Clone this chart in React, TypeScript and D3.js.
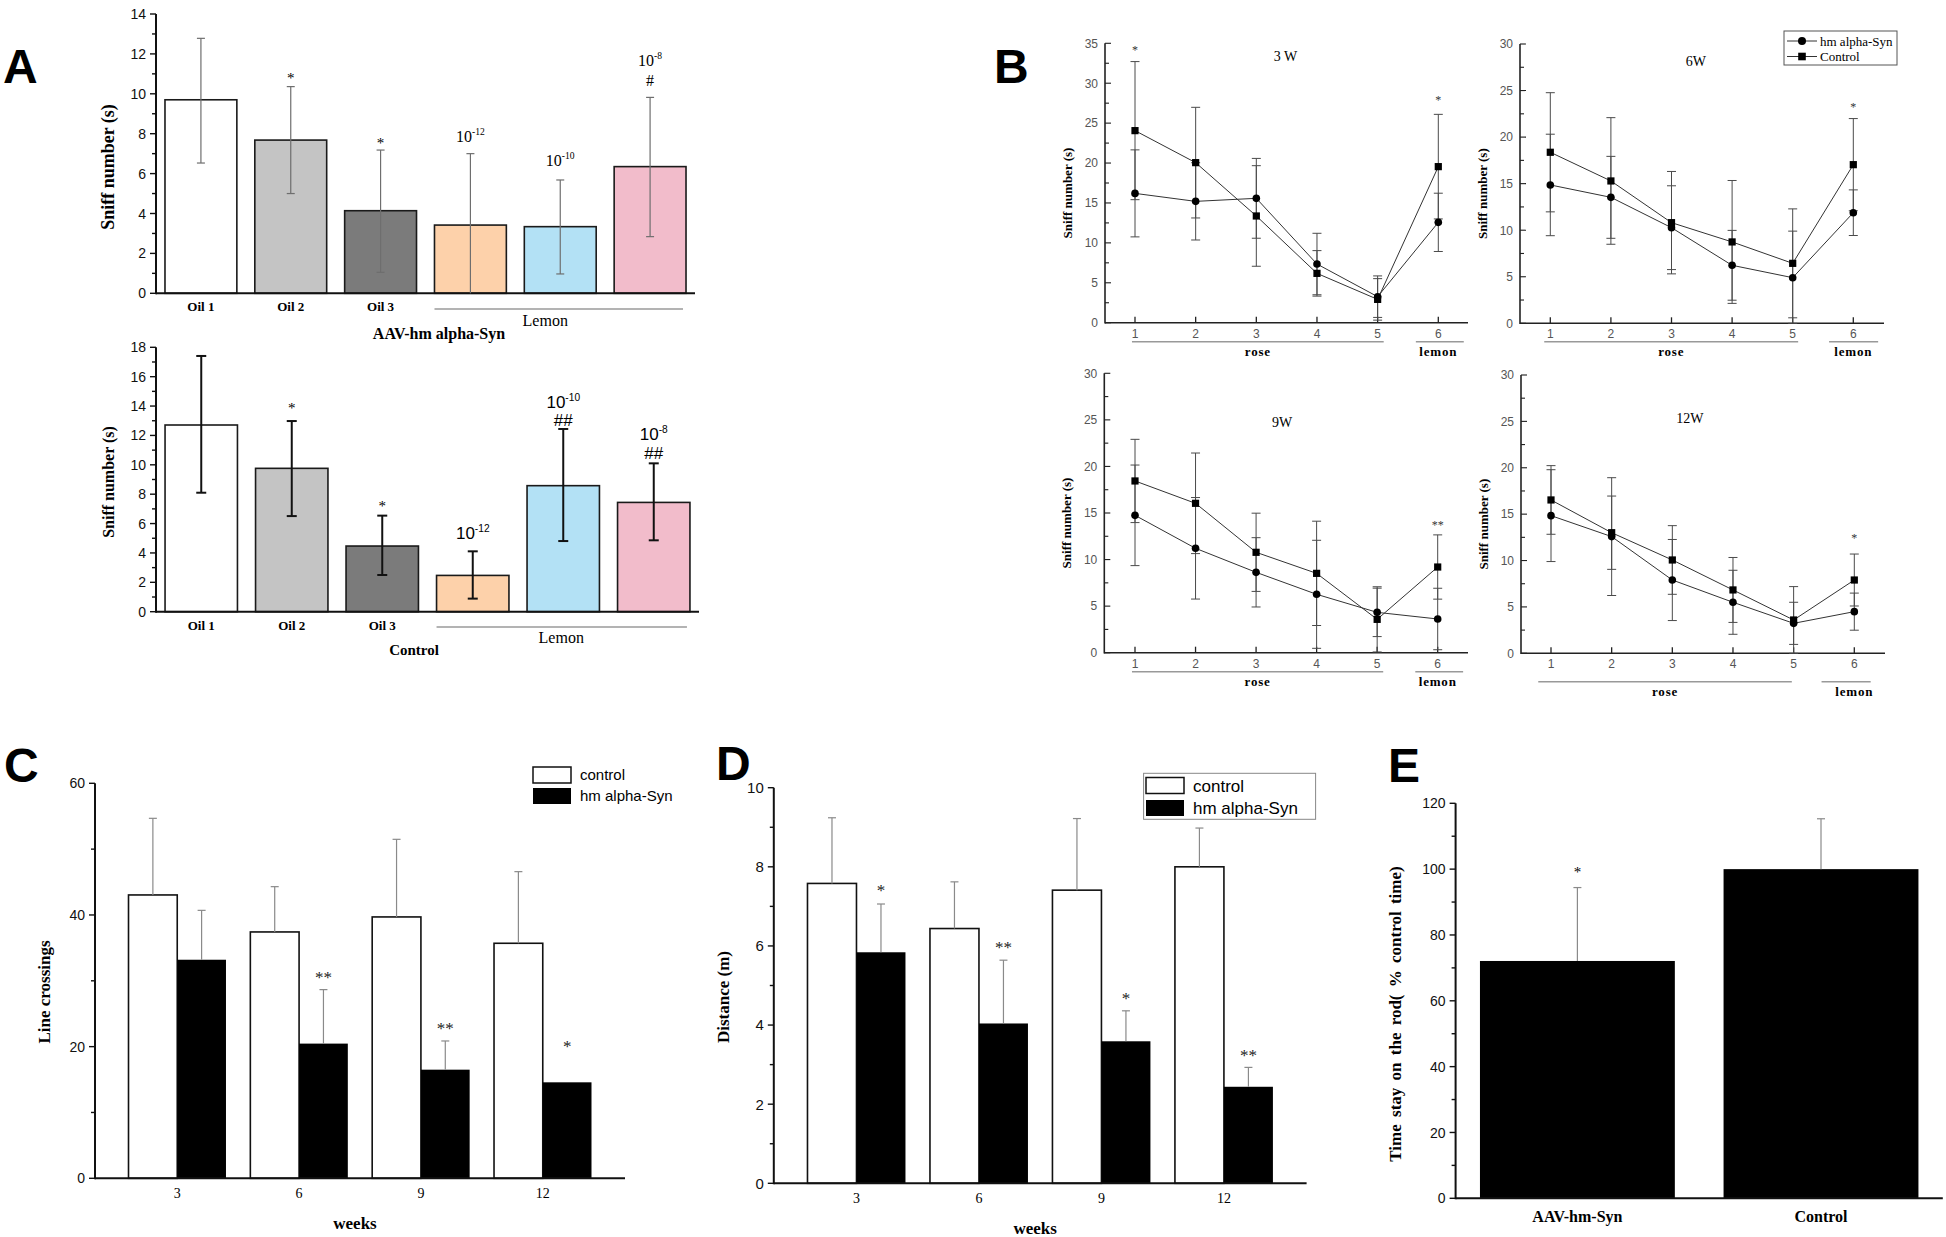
import React from "react";
import * as d3 from "d3";

const SERIF = "'Liberation Serif', 'Times New Roman', serif";
const SANS = "'Liberation Sans', Arial, sans-serif";

// ---- Panel A: sniff number, bars ----
const aCats = ["oil1", "oil2", "oil3", "lem12", "lem10", "lem8"];
const aCatLabels = ["Oil 1", "Oil 2", "Oil 3", "", "", ""];
const aColors = ["#ffffff", "#c4c4c4", "#7b7b7b", "#fdd1aa", "#b3e1f5", "#f2bccb"];
const aConc = ["", "", "", "-12", "-10", "-8"];

const aTopMeans = [9.7, 7.68, 4.14, 3.42, 3.34, 6.35];
const aTopUpper = [12.78, 10.36, 7.18, 7.0, 5.68, 9.82];
const aTopLower = [6.53, 5.0, 1.05, 0, 0.97, 2.84];
const aTopStarY = [0, 10.94, 7.68, 0, 0, 0];
const aTopConcY = [0, 0, 0, 7.6, 6.4, 11.4];
const aTopHash = ["", "", "", "", "", "#"];
const aTopHashY = [0, 0, 0, 0, 0, 10.4];

const aBotMeans = [12.71, 9.76, 4.47, 2.47, 8.58, 7.44];
const aBotUpper = [17.41, 12.98, 6.54, 4.11, 12.44, 10.1];
const aBotLower = [8.1, 6.51, 2.5, 0.89, 4.81, 4.86];
const aBotStarY = [0, 14.07, 7.42, 0, 0, 0];
const aBotConcY = [0, 0, 0, 4.93, 13.84, 11.69];
const aBotHash = ["", "", "", "", "##", "##"];
const aBotHashY = [0, 0, 0, 0, 12.64, 10.37];

// ---- Panel B: sniff number over trials ----
const trials = [1, 2, 3, 4, 5, 6];
const ctrl3W = [24.06, 20.05, 13.37, 6.18, 2.92, 19.55];
const ctrl3WErr = [8.65, 6.93, 6.3, 2.85, 2.6, 6.55];
const syn3W = [16.2, 15.2, 15.58, 7.35, 3.26, 12.57];
const syn3WErr = [5.45, 4.84, 5.0, 3.85, 2.6, 3.65];
const stars3W = ["*", "", "", "", "", "*"];
const stars3WY = [34.4, 0, 0, 0, 0, 28.1];

const ctrl6W = [18.37, 15.29, 10.81, 8.74, 6.44, 17.04];
const ctrl6WErr = [6.4, 6.8, 5.5, 6.6, 5.85, 4.95];
const syn6W = [14.86, 13.53, 10.27, 6.23, 4.9, 11.88];
const syn6WErr = [5.45, 4.4, 4.5, 3.75, 5.0, 2.45];
const stars6W = ["", "", "", "", "", "*"];
const stars6WY = [0, 0, 0, 0, 0, 23.4];

const ctrl9W = [18.44, 16.04, 10.78, 8.52, 3.58, 9.2];
const ctrl9WErr = [4.47, 5.4, 4.2, 5.6, 3.5, 3.45];
const syn9W = [14.75, 11.21, 8.63, 6.27, 4.33, 3.62];
const syn9WErr = [5.4, 5.45, 3.72, 5.8, 2.6, 3.3];
const stars9W = ["", "", "", "", "", "**"];
const stars9WY = [0, 0, 0, 0, 0, 13.9];

const ctrl12W = [16.53, 13.0, 10.06, 6.83, 3.59, 7.9];
const ctrl12WErr = [3.7, 3.95, 3.7, 3.5, 3.6, 2.8];
const syn12W = [14.84, 12.58, 7.9, 5.5, 3.23, 4.49];
const syn12WErr = [4.95, 6.35, 4.37, 3.45, 2.27, 2.0];
const stars12W = ["", "", "", "", "", "*"];
const stars12WY = [0, 0, 0, 0, 0, 12.6];

// ---- Panels C, D, E ----
const weeks = ["3", "6", "9", "12"];
const groups = ["control", "hm alpha-Syn"];

const lineCtrl = [43.04, 37.42, 39.7, 35.7];
const lineCtrlErr = [11.64, 6.88, 11.79, 10.88];
const lineSyn = [33.2, 20.46, 16.5, 14.58];
const lineSynErr = [7.5, 8.2, 4.36, 0];
const lineStars = ["", "**", "**", "*"];
const lineStarY = [0, 31.1, 23.3, 20.6];

const distCtrl = [7.58, 6.44, 7.41, 8.0];
const distCtrlErr = [1.66, 1.18, 1.81, 0.98];
const distSyn = [5.84, 4.04, 3.59, 2.44];
const distSynErr = [1.22, 1.6, 0.77, 0.49];
const distStars = ["*", "**", "*", "**"];
const distStarY = [7.5, 6.07, 4.76, 3.33];

const rodGroups = ["AAV-hm-Syn", "Control"];
const rodMeans = [72.1, 100];
const rodErr = [22.3, 15.3];
const rodStars = ["*", ""];
const rodStarY = [100.25, 0];

function YAxis({ y, x, major, minor, inward = false, len = 6, minorLen = 4, fontSize = 14, labelColor = "#111", stroke = "#111", width = 2, gap = 4, family = SANS }: any) {
  const dir = inward ? 1 : -1;
  const [b, t] = y.range();
  return (
    <g>
      <line x1={x} x2={x} y1={b + width / 2} y2={t} stroke={stroke} strokeWidth={width} />
      {major.map((v: number) => (
        <line key={"a" + v} x1={x} x2={x + dir * len} y1={y(v)} y2={y(v)} stroke={stroke} strokeWidth={width * 0.7} />
      ))}
      {minor.map((v: number) => (
        <line key={"b" + v} x1={x} x2={x + dir * minorLen} y1={y(v)} y2={y(v)} stroke={stroke} strokeWidth={width * 0.7} />
      ))}
      {major.map((v: number) => (
        <text key={"c" + v} x={x - (inward ? 0 : len) - gap} y={y(v)} dy="0.36em" textAnchor="end" fontSize={fontSize} fontFamily={family} fill={labelColor}>
          {v}
        </text>
      ))}
    </g>
  );
}

function VErr({ x, lo, hi, cap, color, width, both = true }: any) {
  return (
    <g stroke={color} strokeWidth={width}>
      <line x1={x} x2={x} y1={lo} y2={hi} />
      <line x1={x - cap} x2={x + cap} y1={hi} y2={hi} />
      {both && <line x1={x - cap} x2={x + cap} y1={lo} y2={lo} />}
    </g>
  );
}

function OdorBars(p: any) {
  const y = d3.scaleLinear().domain([0, p.yMax]).range([p.bottom, p.top]);
  const x = d3.scaleBand().domain(aCats).range([p.left, p.right]).paddingInner(0.2).paddingOuter(0.1);
  const bw = x.bandwidth();
  const cx = (c: string) => (x(c) as number) + bw / 2;
  return (
    <g>
      <YAxis y={y} x={p.left} major={d3.range(0, p.yMax + 1, 2)} minor={d3.range(1, p.yMax, 2)} fontSize={14} len={6} minorLen={4} />
      {aCats.map((c, i) => (
        <rect key={c} x={x(c)} y={y(p.means[i])} width={bw} height={y(0) - y(p.means[i])} fill={aColors[i]} stroke="#1a1a1a" strokeWidth={1.6} />
      ))}
      <line x1={p.left} x2={p.right} y1={y(0)} y2={y(0)} stroke="#111" strokeWidth={2} />
      {aCats.map((c, i) => (
        <VErr key={"e" + c} x={cx(c)} lo={y(Math.max(0, p.lower[i]))} hi={y(p.upper[i])} cap={p.cap} color={p.errColor} width={p.errWidth} both={p.lower[i] > 0} />
      ))}
      {aCats.map((c, i) =>
        p.starY[i] ? (
          <text key={"s" + c} x={cx(c)} y={y(p.starY[i])} dy="0.55em" textAnchor="middle" fontFamily={SERIF} fontSize={15}>*</text>
        ) : null
      )}
      {aCats.map((c, i) =>
        p.concY[i] ? (
          <text key={"k" + c} x={cx(c)} y={y(p.concY[i])} textAnchor="middle" fontFamily={p.concFamily} fontSize={p.concSize}>
            10<tspan dy={-p.concSize * 0.42} fontSize={p.concSize * 0.6}>{aConc[i]}</tspan>
          </text>
        ) : null
      )}
      {aCats.map((c, i) =>
        p.hashes[i] ? (
          <text key={"h" + c} x={cx(c)} y={y(p.hashY[i])} textAnchor="middle" fontFamily={p.concFamily} fontSize={p.concSize}>{p.hashes[i]}</text>
        ) : null
      )}
      {aCatLabels.map((l, i) =>
        l ? (
          <text key={"l" + i} x={cx(aCats[i])} y={p.catY} textAnchor="middle" fontFamily={SERIF} fontWeight="bold" fontSize={13}>{l}</text>
        ) : null
      )}
      <line x1={x("lem12")} x2={(x("lem8") as number) + bw - 3} y1={p.lineY} y2={p.lineY} stroke="#9a9a9a" strokeWidth={1.6} />
      <text x={cx("lem10") + p.lemonDx} y={p.lemonY} textAnchor="middle" fontFamily={SERIF} fontSize={16}>Lemon</text>
      <text x={p.groupX} y={p.groupY} textAnchor="middle" fontFamily={SERIF} fontWeight="bold" fontSize={p.groupSize}>{p.group}</text>
      <text transform={`translate(${p.left - 42},${p.yLabelY}) rotate(-90)`} textAnchor="middle" fontFamily={SERIF} fontWeight="bold" fontSize={p.yLabelSize}>Sniff number (s)</text>
    </g>
  );
}

function SniffLines(p: any) {
  const x = d3.scaleLinear().domain([1, 6]).range([p.x1, p.x6]);
  const y = d3.scaleLinear().domain([0, p.yMax]).range([p.bottom, p.top]);
  const line = d3.line<number>().x((_, i) => x(trials[i])).y((v) => y(v));
  const axisCol = "#222";
  const errCol = "#4a4a4a";
  const ul = p.bottom + p.ulDy;
  return (
    <g>
      <YAxis y={y} x={p.left} major={d3.range(0, p.yMax + 1, 5)} minor={d3.range(2.5, p.yMax, 5)} inward len={6} minorLen={4} fontSize={12} labelColor="#555" stroke={axisCol} width={1.6} gap={7} />
      <line x1={p.left} x2={p.right} y1={p.bottom} y2={p.bottom} stroke={axisCol} strokeWidth={1.6} />
      {trials.map((t) => (
        <g key={"t" + t}>
          <line x1={x(t)} x2={x(t)} y1={p.bottom} y2={p.bottom - 6} stroke={axisCol} strokeWidth={1.3} />
          <text x={x(t)} y={p.bottom + 15} textAnchor="middle" fontFamily={SANS} fontSize={12} fill="#555">{t}</text>
        </g>
      ))}
      {trials.map((t, i) => (
        <g key={"e" + t}>
          <VErr x={x(t)} lo={y(Math.max(0, p.ctrl[i] - p.ctrlErr[i]))} hi={y(p.ctrl[i] + p.ctrlErr[i])} cap={4.5} color={errCol} width={1} />
          <VErr x={x(t)} lo={y(Math.max(0, p.syn[i] - p.synErr[i]))} hi={y(p.syn[i] + p.synErr[i])} cap={4.5} color={errCol} width={1} />
        </g>
      ))}
      <path d={line(p.ctrl) || ""} fill="none" stroke="#333" strokeWidth={1} />
      <path d={line(p.syn) || ""} fill="none" stroke="#333" strokeWidth={1} />
      {trials.map((t, i) => (
        <g key={"m" + t}>
          <rect x={x(t) - 3.6} y={y(p.ctrl[i]) - 3.6} width={7.2} height={7.2} fill="#000" />
          <circle cx={x(t)} cy={y(p.syn[i])} r={3.8} fill="#000" />
        </g>
      ))}
      {trials.map((t, i) =>
        p.stars[i] ? (
          <text key={"s" + t} x={x(t)} y={y(p.starY[i])} dy="0.5em" textAnchor="middle" fontFamily={SERIF} fontSize={12} fill="#333">{p.stars[i]}</text>
        ) : null
      )}
      <text x={x(p.titleT)} y={y(p.titleV)} dy="0.35em" textAnchor="middle" fontFamily={SERIF} fontSize={14}>{p.title}</text>
      <line x1={x(p.rose[0])} x2={x(p.rose[1])} y1={ul} y2={ul} stroke="#999" strokeWidth={1.4} />
      <line x1={x(p.lemon[0])} x2={x(p.lemon[1])} y1={ul} y2={ul} stroke="#999" strokeWidth={1.4} />
      <text x={x((p.rose[0] + p.rose[1]) / 2)} y={ul + 14} textAnchor="middle" fontFamily={SERIF} fontWeight="bold" fontSize={13} letterSpacing={0.8}>rose</text>
      <text x={x(6)} y={ul + 14} textAnchor="middle" fontFamily={SERIF} fontWeight="bold" fontSize={13} letterSpacing={0.8}>lemon</text>
      <text transform={`translate(${p.left - 33},${(p.top + p.bottom) / 2 + 10}) rotate(-90)`} textAnchor="middle" fontFamily={SERIF} fontWeight="bold" fontSize={13}>Sniff number (s)</text>
    </g>
  );
}

function WeekBars(p: any) {
  const y = d3.scaleLinear().domain([0, p.yMax]).range([p.bottom, p.top]);
  const x = d3.scaleBand().domain(weeks).range([p.left, p.right]).paddingInner(0.2).paddingOuter(0.275);
  const inner = d3.scaleBand().domain(groups).range([0, x.bandwidth()]);
  const bw = inner.bandwidth();
  const xs = (w: string, g: string) => (x(w) as number) + (inner(g) as number);
  return (
    <g>
      {weeks.map((w, i) => (
        <g key={w}>
          <rect x={xs(w, groups[0])} y={y(p.ctrl[i])} width={bw} height={y(0) - y(p.ctrl[i])} fill="#fff" stroke="#111" strokeWidth={1.6} />
          <rect x={xs(w, groups[1])} y={y(p.syn[i])} width={bw} height={y(0) - y(p.syn[i])} fill="#000" />
          <VErr x={xs(w, groups[0]) + bw / 2} lo={y(p.ctrl[i])} hi={y(p.ctrl[i] + p.ctrlErr[i])} cap={4} color="#8a8a8a" width={1.2} both={false} />
          {p.synErr[i] > 0 && <VErr x={xs(w, groups[1]) + bw / 2} lo={y(p.syn[i])} hi={y(p.syn[i] + p.synErr[i])} cap={4} color="#8a8a8a" width={1.2} both={false} />}
          {p.stars[i] && (
            <text x={xs(w, groups[1]) + bw / 2} y={y(p.starY[i])} dy="0.55em" textAnchor="middle" fontFamily={SERIF} fontSize={17} fill="#222">{p.stars[i]}</text>
          )}
          <text x={(x(w) as number) + x.bandwidth() / 2} y={p.bottom + 20} textAnchor="middle" fontFamily={SERIF} fontSize={14}>{w}</text>
        </g>
      ))}
      <YAxis y={y} x={p.left} major={d3.range(0, p.yMax + 1, p.step)} minor={d3.range(p.step / 2, p.yMax, p.step)} fontSize={p.tickSize} len={6} minorLen={4} />
      <line x1={p.left} x2={p.right} y1={y(0)} y2={y(0)} stroke="#111" strokeWidth={2} />
      <text x={(p.left + p.right) / 2 - 5} y={p.bottom + 51} textAnchor="middle" fontFamily={SERIF} fontWeight="bold" fontSize={17}>weeks</text>
      <text transform={`translate(${p.yLabelX},${p.yLabelY}) rotate(-90)`} textAnchor="middle" fontFamily={SERIF} fontWeight="bold" fontSize={17}>{p.yLabel}</text>
    </g>
  );
}

function BarLegend({ x, y, size, gap }: any) {
  return (
    <g fontFamily={SANS} fontSize={size}>
      <rect x={x} y={y} width={38} height={16} fill="#fff" stroke="#111" strokeWidth={1.5} />
      <rect x={x} y={y + gap} width={38} height={16} fill="#000" />
      <text x={x + 47} y={y + 8} dy="0.36em">{groups[0]}</text>
      <text x={x + 47} y={y + gap + 8} dy="0.36em">{groups[1]}</text>
    </g>
  );
}

export default function App() {
  const eY = d3.scaleLinear().domain([0, 120]).range([1198.3, 803.3]);
  const eX = d3.scaleBand().domain(rodGroups).range([1455.6, 1942.8]).paddingInner(0.2).paddingOuter(0.1);
  const ebw = eX.bandwidth();
  const letter = { fontFamily: SANS, fontWeight: "bold" as const, fontSize: 48 };
  return (
    <svg width={1946} height={1237} style={{ position: "absolute", left: 0, top: 0, background: "#fff" }}>
      <rect width={1946} height={1237} fill="#fff" />
      <text x={3} y={83} {...letter}>A</text>
      <text x={994} y={83} {...letter}>B</text>
      <text x={4} y={782} {...letter}>C</text>
      <text x={716} y={780} {...letter}>D</text>
      <text x={1388} y={782} {...letter}>E</text>

      <OdorBars
        means={aTopMeans} upper={aTopUpper} lower={aTopLower} yMax={14} top={14} bottom={293.3} left={156} right={695}
        errColor="#6e6e6e" errWidth={1.2} cap={4} starY={aTopStarY} concY={aTopConcY} hashes={aTopHash} hashY={aTopHashY}
        concFamily={SERIF} concSize={16} catY={311} lineY={309} lemonY={326} lemonDx={-15}
        group="AAV-hm alpha-Syn" groupX={439} groupY={339} groupSize={16} yLabelSize={18} yLabelY={167}
      />
      <OdorBars
        means={aBotMeans} upper={aBotUpper} lower={aBotLower} yMax={18} top={347.3} bottom={611.7} left={156} right={699}
        errColor="#111" errWidth={2} cap={5} starY={aBotStarY} concY={aBotConcY} hashes={aBotHash} hashY={aBotHashY}
        concFamily={SANS} concSize={17} catY={630} lineY={627} lemonY={643} lemonDx={-2}
        group="Control" groupX={414} groupY={655} groupSize={15} yLabelSize={16} yLabelY={482}
      />

      <SniffLines title="3 W" titleT={3.48} titleV={33.4} yMax={35} top={43.3} bottom={322.7} left={1105} right={1468} x1={1135} x6={1438.3}
        ctrl={ctrl3W} ctrlErr={ctrl3WErr} syn={syn3W} synErr={syn3WErr} stars={stars3W} starY={stars3WY}
        rose={[0.95, 5.1]} lemon={[5.63, 6.42]} ulDy={19} />
      <SniffLines title="6W" titleT={3.4} titleV={28.2} yMax={30} top={44} bottom={323.3} left={1520} right={1884} x1={1550.3} x6={1853.3}
        ctrl={ctrl6W} ctrlErr={ctrl6WErr} syn={syn6W} synErr={syn6WErr} stars={stars6W} starY={stars6WY}
        rose={[0.9, 5.09]} lemon={[5.6, 6.41]} ulDy={18.5} />
      <SniffLines title="9W" titleT={3.43} titleV={24.8} yMax={30} top={373.3} bottom={652.7} left={1104.3} right={1468} x1={1135} x6={1437.7}
        ctrl={ctrl9W} ctrlErr={ctrl9WErr} syn={syn9W} synErr={syn9WErr} stars={stars9W} starY={stars9WY}
        rose={[0.95, 5.1]} lemon={[5.63, 6.42]} ulDy={19} />
      <SniffLines title="12W" titleT={3.29} titleV={25.4} yMax={30} top={375} bottom={653.3} left={1521} right={1885} x1={1551} x6={1854.3}
        ctrl={ctrl12W} ctrlErr={ctrl12WErr} syn={syn12W} synErr={syn12WErr} stars={stars12W} starY={stars12WY}
        rose={[0.79, 4.97]} lemon={[5.46, 6.27]} ulDy={28.4} />

      {/* legend of panel B */}
      <g fontFamily={SERIF} fontSize={13}>
        <rect x={1784} y={31} width={113} height={34} fill="#fff" stroke="#555" strokeWidth={1} />
        <line x1={1787} x2={1817} y1={41} y2={41} stroke="#333" strokeWidth={1} />
        <circle cx={1802} cy={41} r={4} fill="#000" />
        <text x={1820} y={41} dy="0.35em">hm alpha-Syn</text>
        <line x1={1787} x2={1817} y1={56.5} y2={56.5} stroke="#333" strokeWidth={1} />
        <rect x={1798.2} y={52.7} width={7.6} height={7.6} fill="#000" />
        <text x={1820} y={56.5} dy="0.35em">Control</text>
      </g>

      <WeekBars yMax={60} step={20} top={783.3} bottom={1178.3} left={95} right={625} tickSize={14}
        ctrl={lineCtrl} ctrlErr={lineCtrlErr} syn={lineSyn} synErr={lineSynErr} stars={lineStars} starY={lineStarY}
        yLabel="Line crossings" yLabelX={50} yLabelY={992} />
      <BarLegend x={533} y={767} size={15} gap={21} />

      <WeekBars yMax={10} step={2} top={787.7} bottom={1183.3} left={773.8} right={1306.6} tickSize={15}
        ctrl={distCtrl} ctrlErr={distCtrlErr} syn={distSyn} synErr={distSynErr} stars={distStars} starY={distStarY}
        yLabel="Distance (m)" yLabelX={729} yLabelY={997} />
      <rect x={1143.6} y={773.3} width={172} height={46} fill="#fff" stroke="#888" strokeWidth={1} />
      <BarLegend x={1146} y={777.5} size={17} gap={22.5} />

      {/* Panel E */}
      <g>
        {rodGroups.map((g, i) => {
          const cx = (eX(g) as number) + ebw / 2;
          return (
            <g key={g}>
              <rect x={eX(g)} y={eY(rodMeans[i])} width={ebw} height={eY(0) - eY(rodMeans[i])} fill="#000" />
              <VErr x={cx} lo={eY(rodMeans[i])} hi={eY(rodMeans[i] + rodErr[i])} cap={4} color="#8a8a8a" width={1.2} both={false} />
              {rodStars[i] && (
                <text x={cx} y={eY(rodStarY[i])} dy="0.55em" textAnchor="middle" fontFamily={SERIF} fontSize={15}>{rodStars[i]}</text>
              )}
              <text x={cx} y={1222} textAnchor="middle" fontFamily={SERIF} fontWeight="bold" fontSize={16}>{g}</text>
            </g>
          );
        })}
        <YAxis y={eY} x={1455.6} major={d3.range(0, 121, 20)} minor={d3.range(10, 120, 20)} fontSize={14} len={6} minorLen={4} />
        <line x1={1455.6} x2={1942.8} y1={eY(0)} y2={eY(0)} stroke="#111" strokeWidth={2} />
        <text transform="translate(1401,1014) rotate(-90)" textAnchor="middle" fontFamily={SERIF} fontWeight="bold" fontSize={17} wordSpacing={3}>
          Time stay on the rod( %  control time)
        </text>
      </g>
    </svg>
  );
}
